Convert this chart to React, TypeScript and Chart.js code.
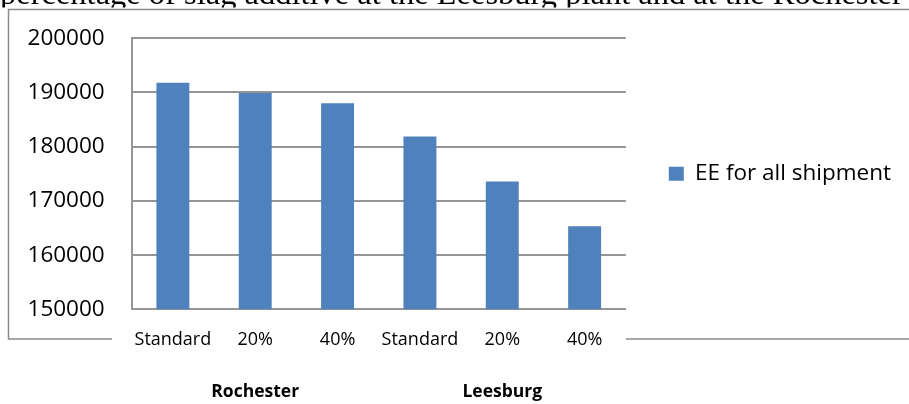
import React, { useEffect, useRef } from 'react';
import { Chart, registerables } from 'chart.js';

Chart.register(...registerables);

// ---- data ----
const categories = ['Standard', '20%', '40%', 'Standard', '20%', '40%'];
const groupLabels = ['', 'Rochester', '', '', 'Leesburg', ''];
const eeValues = [191800, 189900, 188000, 181900, 173600, 165300];
const seriesName = 'EE for all shipment';
const yMin = 150000;
const yMax = 200000;
const yStep = 10000;
const captionText =
  'percentage of slag additive at the Leesburg plant and at the Rochester plant.';

// ---- styles ----
const FONT = '"Open Sans", "Noto Sans", sans-serif';
const BAR = '#4F81BD';
const GRID = '#959595';
const FRAME = '#8A8A8A';

const framePlugin = {
  id: 'frame',
  beforeLayout(chart: any) {
    const lg = chart.legend;
    if (lg && !lg.__wide) {
      const orig = lg.fit.bind(lg);
      lg.fit = function () {
        this.maxWidth = 10000;
        orig();
      };
      lg.__wide = true;
    }
  },
  beforeDraw(chart: any) {
    const ctx = chart.ctx as CanvasRenderingContext2D;
    const w = chart.width;
    ctx.save();
    ctx.fillStyle = '#ffffff';
    ctx.fillRect(0, 0, w, chart.height);
    // clipped caption line of the surrounding document
    ctx.save();
    ctx.beginPath();
    ctx.rect(0, 0, w, 7.5);
    ctx.clip();
    ctx.fillStyle = '#000000';
    ctx.font = '32.5px "Liberation Serif", serif';
    ctx.textBaseline = 'alphabetic';
    ctx.fillText(captionText, 0, 4);
    ctx.restore();
    // chart frame
    ctx.strokeStyle = FRAME;
    ctx.lineWidth = 1.5;
    ctx.beginPath();
    ctx.moveTo(w, 9.5);
    ctx.lineTo(8.5, 9.5);
    ctx.lineTo(8.5, 339);
    ctx.lineTo(112, 339);
    ctx.moveTo(chart.chartArea.right, 339);
    ctx.lineTo(w, 339);
    ctx.stroke();
    ctx.restore();
  },
};

export default function App() {
  const ref = useRef<HTMLCanvasElement | null>(null);

  useEffect(() => {
    if (!ref.current) return;
    const chart = new Chart(ref.current, {
      type: 'bar',
      data: {
        labels: categories,
        datasets: [
          {
            label: seriesName,
            data: eeValues,
            backgroundColor: BAR,
            borderWidth: 0,
            barPercentage: 0.5,
            categoryPercentage: 0.8,
          },
        ],
      },
      options: {
        animation: false,
        responsive: false,
        layout: { padding: { top: 38.3, left: 0, right: 8, bottom: 1.3 } },
        plugins: {
          legend: {
            position: 'right',
            align: 'center',
            fullSize: false,
            labels: {
              boxWidth: 15,
              boxHeight: 14,
              padding: 43,
              color: '#000000',
              font: { family: FONT, size: 22.5 },
            },
          },
          tooltip: { enabled: false },
        },
        scales: {
          x: {
            type: 'category',
            weight: 0,
            grid: { display: false, drawTicks: false },
            border: { display: true, color: GRID, width: 2 },
            ticks: {
              color: '#000000',
              padding: 19.5,
              autoSkip: false,
              maxRotation: 0,
              font: { family: FONT, size: 18 },
            },
            afterFit: (s: any) => {
              s.height = 41.8;
            },
          },
          x2: {
            type: 'category',
            labels: groupLabels,
            position: 'bottom',
            offset: true,
            weight: 1,
            grid: { display: false, drawTicks: false },
            border: { display: false },
            ticks: {
              color: '#000000',
              padding: 30,
              autoSkip: false,
              maxRotation: 0,
              font: { family: FONT, size: 17.5, weight: 'bold' },
            },
            afterFit: (s: any) => {
              s.height = 51.6;
            },
          },
          y: {
            min: yMin,
            max: yMax,
            grid: { color: GRID, lineWidth: 2, drawTicks: false },
            border: { display: true, color: GRID, width: 2 },
            ticks: {
              stepSize: yStep,
              padding: 27,
              color: '#000000',
              font: { family: FONT, size: 22.5 },
              callback: (v: any) => String(v),
            },
            afterFit: (s: any) => {
              s.width = 131.7;
              s.paddingTop = 0;
              s.paddingBottom = 0;
            },
          },
        },
      } as any,
      plugins: [framePlugin],
    });
    return () => chart.destroy();
  }, []);

  return (
    <div style={{ position: 'absolute', left: 0, top: 0, width: 909, height: 404 }}>
      <canvas ref={ref} width={909} height={404} />
    </div>
  );
}
